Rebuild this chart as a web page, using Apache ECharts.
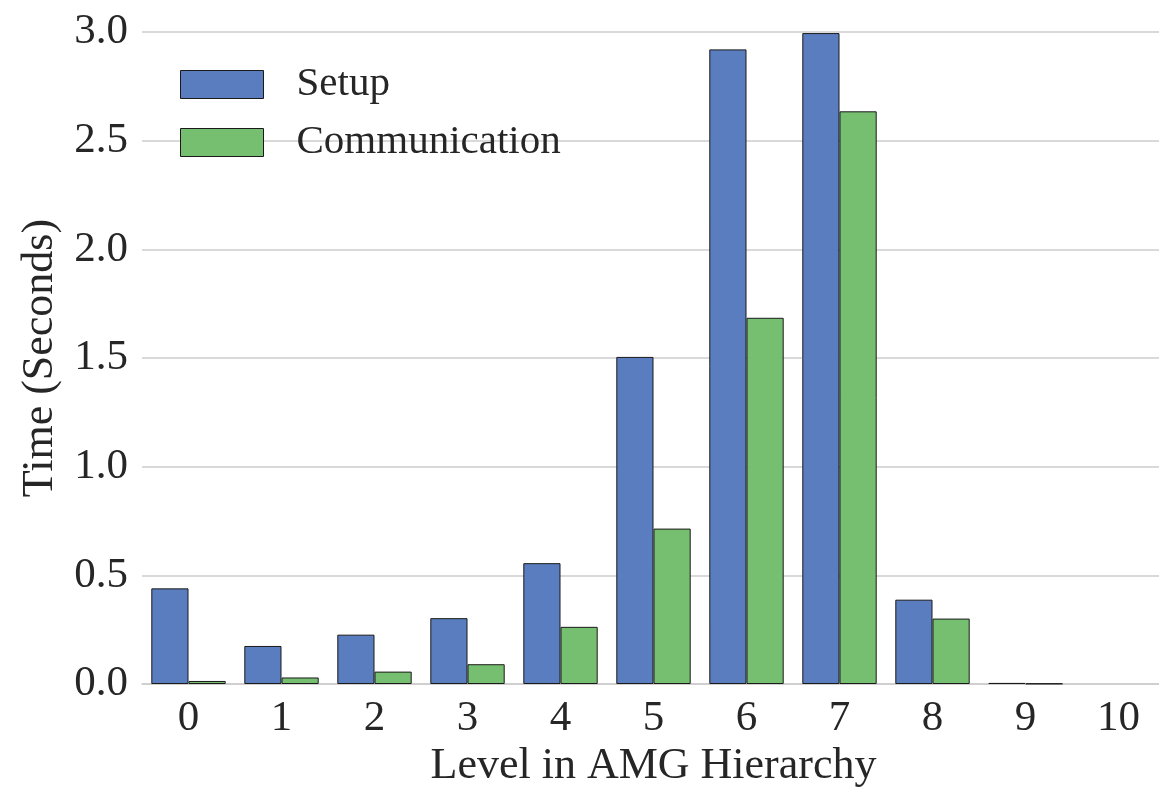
<!DOCTYPE html>
<html>
<head>
<meta charset="utf-8">
<title>AMG setup vs communication</title>
<script src="https://cdn.jsdelivr.net/npm/echarts@6/dist/echarts.min.js"></script>
<style>
  html, body { margin: 0; padding: 0; background: #fff; }
  #chart { width: 1159px; height: 788px; }
</style>
</head>
<body>
<div id="chart"></div>
<script>
// niveaux de la hiérarchie AMG
const levels = ['0', '1', '2', '3', '4', '5', '6', '7', '8', '9', '10'];
// temps (secondes)
const setupTimes = [0.44, 0.175, 0.227, 0.303, 0.556, 1.505, 2.92, 2.995, 0.388, 0.005, 0];
const commTimes = [0.014, 0.03, 0.057, 0.091, 0.263, 0.715, 1.685, 2.635, 0.301, 0.002, 0];
const yTicks = [0, 0.5, 1.0, 1.5, 2.0, 2.5, 3.0];

const font = '"Liberation Serif", "DejaVu Serif", serif';
const textColor = '#262626';

// une barre nulle ne doit pas laisser de trait de bordure
const toBars = values => values.map(v => (v === 0 ? { value: v, itemStyle: { borderWidth: 0 } } : v));

const chart = echarts.init(document.getElementById('chart'), null, { renderer: 'canvas' });

const option = {
  animation: false,
  backgroundColor: '#ffffff',
  grid: { left: 142, top: 32, width: 1023, bottom: 104, outerBoundsMode: 'none', containLabel: false },
  legend: {
    orient: 'vertical',
    left: 175,
    top: 59,
    itemWidth: 83,
    itemHeight: 28,
    itemGap: 17,
    icon: 'rect',
    itemStyle: { borderColor: '#1a1a1a', borderWidth: 1 },
    textStyle: {
      fontFamily: font, fontSize: 41, color: textColor,
      padding: [0, 0, 0, 28]
    },
    data: ['Setup', 'Communication']
  },
  xAxis: {
    type: 'category',
    data: levels,
    name: 'Level in AMG Hierarchy',
    nameLocation: 'middle',
    nameGap: 56,
    nameTextStyle: { fontFamily: font, fontSize: 44, color: textColor },
    axisLine: { show: true, lineStyle: { color: '#cccccc', width: 1.5 } },
    axisTick: { show: false },
    axisLabel: { fontFamily: font, fontSize: 43, color: textColor, margin: 13 }
  },
  yAxis: {
    type: 'value',
    min: yTicks[0],
    max: yTicks[yTicks.length - 1],
    interval: 0.5,
    name: 'Time (Seconds)',
    nameLocation: 'middle',
    nameGap: 80,
    nameTextStyle: { fontFamily: font, fontSize: 44, color: textColor },
    axisLine: { show: false },
    axisTick: { show: false },
    axisLabel: {
      fontFamily: font, fontSize: 43, color: textColor, margin: 14,
      formatter: v => v.toFixed(1)
    },
    splitLine: { show: true, lineStyle: { color: '#cccccc', width: 1.5 } }
  },
  series: [
    {
      name: 'Setup',
      type: 'bar',
      data: toBars(setupTimes),
      barGap: '0%',
      barCategoryGap: '20%',
      itemStyle: { color: '#597DBF', borderColor: '#1a1a1a', borderWidth: 1 }
    },
    {
      name: 'Communication',
      type: 'bar',
      data: toBars(commTimes),
      barGap: '0%',
      barCategoryGap: '20%',
      itemStyle: { color: '#76BF70', borderColor: '#1a1a1a', borderWidth: 1 }
    }
  ]
};

chart.setOption(option);
window.addEventListener('resize', chart.resize);
</script>
</body>
</html>
